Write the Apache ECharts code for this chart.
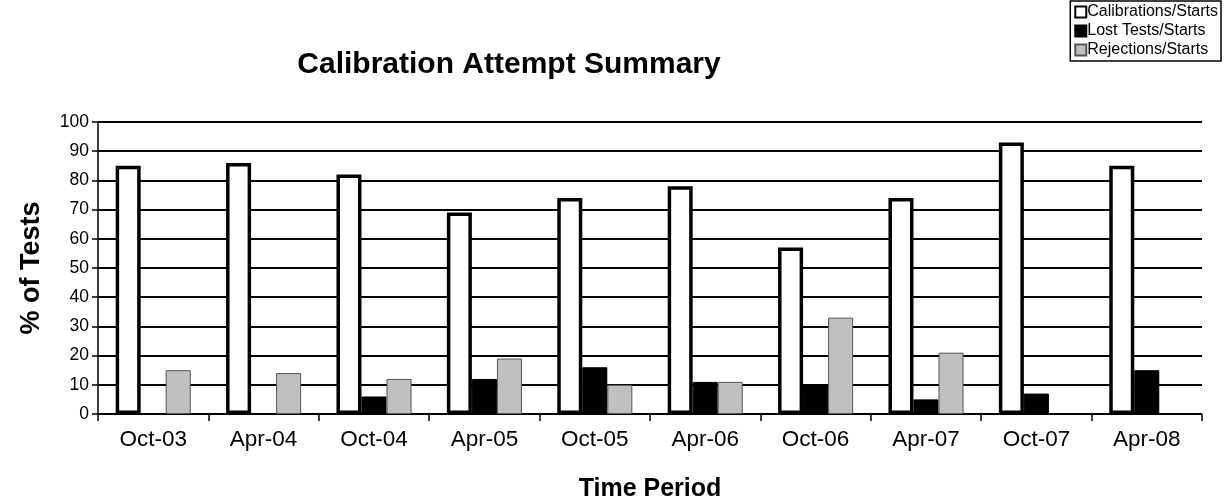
<!DOCTYPE html>
<html><head><meta charset="utf-8">
<script src="https://cdn.jsdelivr.net/npm/echarts@6/dist/echarts.min.js"></script>
<style>html,body{margin:0;padding:0;background:#fff}#c{width:1225px;height:501px}</style>
</head><body><div id="c"></div>
<script>
const categories = ['Oct-03','Apr-04','Oct-04','Apr-05','Oct-05','Apr-06','Oct-06','Apr-07','Oct-07','Apr-08'];
const calibrations = [85, 86, 82, 69, 74, 78, 57, 74, 93, 85];
const lostTests = [0, 0, 6, 12, 16, 11, 10, 5, 7, 15];
const rejections = [15, 14, 12, 19, 10, 11, 33, 21, 0, 0];
const yTicks = [0,10,20,30,40,50,60,70,80,90,100];

const font = 'Liberation Sans';
const hideZero = arr => arr.map(v => v === 0 ? '-' : v);
const chart = echarts.init(document.getElementById('c'));
chart.setOption({
  animation: false,
  backgroundColor: '#fff',
  title: {
    text: 'Calibration Attempt Summary',
    left: 504, top: 45, textAlign: 'center',
    textStyle: {fontFamily: font, fontSize: 30, fontWeight: 'bold', color: '#000'}
  },
  legend: {
    orient: 'vertical', right: 4, top: 1,
    itemWidth: 11, itemHeight: 11, itemGap: 3,
    padding: [3, 3, 3, 4],
    borderColor: '#000', borderWidth: 1.5,
    icon: 'rect',
    textStyle: {fontFamily: font, fontSize: 16, color: '#000', padding: [0,0,0,-4]},
    data: ['Calibrations/Starts','Lost Tests/Starts','Rejections/Starts']
  },
  grid: {left: 98, right: 23, top: 122, bottom: 87, containLabel: false, outerBoundsMode: 'none'},
  xAxis: {
    type: 'category', data: categories,
    name: 'Time Period', nameLocation: 'middle', nameGap: 63,
    nameTextStyle: {fontFamily: font, fontSize: 25, fontWeight: 'bold', color: '#000'},
    axisLine: {lineStyle: {color: '#000', width: 1.5}},
    axisTick: {show: true, alignWithLabel: false, length: 7, lineStyle: {color: '#000', width: 1.5}},
    axisLabel: {fontFamily: font, fontSize: 22.5, color: '#000', margin: 14}
  },
  yAxis: {
    type: 'value', min: yTicks[0], max: yTicks[yTicks.length-1], interval: 10,
    name: '% of Tests', nameLocation: 'middle', nameGap: 53, nameRotate: 90,
    nameTextStyle: {fontFamily: font, fontSize: 27, fontWeight: 'bold', color: '#000'},
    axisLine: {show: true, lineStyle: {color: '#000', width: 1.5}},
    axisTick: {show: true, length: 6, lineStyle: {color: '#000', width: 1.5}},
    axisLabel: {fontFamily: font, fontSize: 17.5, color: '#000', margin: 9},
    splitLine: {show: true, lineStyle: {color: '#000', width: 2}}
  },
  series: [
    {name: 'Calibrations/Starts', type: 'bar', data: hideZero(calibrations), barGap: '0%', barCategoryGap: '32%',
     itemStyle: {color: '#fff', borderColor: '#000', borderWidth: 3.5}},
    {name: 'Lost Tests/Starts', type: 'bar', data: hideZero(lostTests), barGap: '0%',
     itemStyle: {color: '#000', borderColor: '#000', borderWidth: 1}},
    {name: 'Rejections/Starts', type: 'bar', data: hideZero(rejections), barGap: '0%',
     itemStyle: {color: '#c0c0c0', borderColor: '#555', borderWidth: 1}}
  ]
});
</script></body></html>
